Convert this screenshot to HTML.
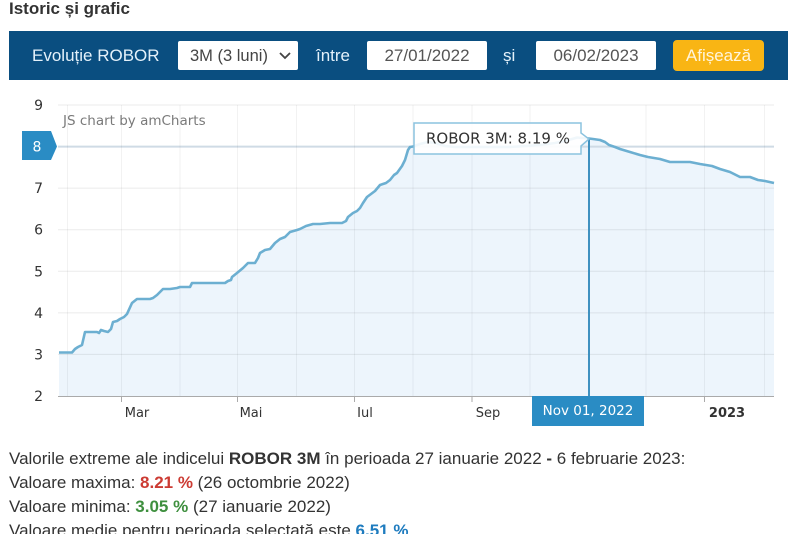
<!DOCTYPE html>
<html><head><meta charset="utf-8"><style>
html,body{margin:0;padding:0;background:#fff;width:800px;height:534px;overflow:hidden}
svg{display:block}
</style></head><body>
<svg width="800" height="534" viewBox="0 0 800 534" xmlns="http://www.w3.org/2000/svg">
<!-- Header -->
<text x="9" y="14" font-family="'Liberation Sans',Arial,sans-serif" font-size="17" font-weight="bold" fill="#333">Istoric și grafic</text>
<!-- Blue bar -->
<rect x="9" y="31" width="779" height="49" fill="#0a4e80"/>
<text x="32" y="61" font-family="'Liberation Sans',Arial,sans-serif" font-size="17" fill="#e4f1fa">Evoluție ROBOR</text>
<rect x="178" y="41" width="120" height="29" rx="2" fill="#fff"/>
<text x="190" y="61" font-family="'Liberation Sans',Arial,sans-serif" font-size="16.5" fill="#444">3M (3 luni)</text>
<polyline points="280,53 285,58 290,53" fill="none" stroke="#444" stroke-width="1.8"/>
<text x="316" y="61" font-family="'Liberation Sans',Arial,sans-serif" font-size="17" fill="#e4f1fa">între</text>
<rect x="367" y="41" width="120" height="29" rx="2" fill="#fff"/>
<text x="427" y="61" text-anchor="middle" font-family="'Liberation Sans',Arial,sans-serif" font-size="17" fill="#555">27/01/2022</text>
<text x="503" y="61" font-family="'Liberation Sans',Arial,sans-serif" font-size="17" fill="#e4f1fa">și</text>
<rect x="536" y="41" width="120" height="29" rx="2" fill="#fff"/>
<text x="596" y="61" text-anchor="middle" font-family="'Liberation Sans',Arial,sans-serif" font-size="17" fill="#555">06/02/2023</text>
<rect x="673" y="40" width="91" height="31" rx="4" fill="#f9b514"/>
<text x="718.5" y="61" text-anchor="middle" font-family="'Liberation Sans',Arial,sans-serif" font-size="17" fill="#fff5dc">Afișează</text>

<!-- Chart fill -->
<polygon fill="#edf5fc" points="59,396 59,352.5 72,352.5 75,349 78,347 82,345 85,332 97,332 99,333 101,330 104,331 108,332 111,329 113,322 117,321 120,319 124,317 127,314 132,303 137,299 145,299 150,299 153,298 157,295 160,292 163,289 170,289 177,288 180,287 190,287 192,283 210,283 225,283 228,281 231,280 232,277 237,273 243,268 248,263 255,263 258,258 260,253 265,250 270,249 275,243 280,239 285,237 290,232 297,230 300,229 306,226 313,224 320,224 330,223 342,223 346,221 348,217 353,213 357,211 360,208 363,203 367,197 371,194 375,191 380,185 386,183 390,180 394,175 397,173 402,166 405,160 408,150 410,147 413,146.5 420,144 428,142 435,143 445,146 455,147 470,147 490,147 510,147 525,146 540,145 555,143 565,141 572,139 577,137.5 583,138 589,138.5 593,139 600,140 605,142 609,145 615,147 620,149 630,152 640,155 648,157 660,159 670,162 690,162 700,164 712,166 720,169 730,172 740,177 750,177 758,180 765,181 774,183 774,396"/>

<!-- Grid -->
<g stroke="#000" stroke-opacity="0.08" stroke-width="1">
<line x1="58" y1="105" x2="774" y2="105"/>
<line x1="58" y1="188.1" x2="774" y2="188.1"/>
<line x1="58" y1="229.7" x2="774" y2="229.7"/>
<line x1="58" y1="271.3" x2="774" y2="271.3"/>
<line x1="58" y1="312.9" x2="774" y2="312.9"/>
<line x1="58" y1="354.4" x2="774" y2="354.4"/>
</g>
<line x1="58" y1="146.6" x2="774" y2="146.6" stroke="#cfdbe5" stroke-width="2"/>
<g stroke="#000" stroke-opacity="0.05" stroke-width="1">
<line x1="67.5" y1="105" x2="67.5" y2="396"/>
<line x1="121.5" y1="105" x2="121.5" y2="396"/>
<line x1="180" y1="105" x2="180" y2="396"/>
<line x1="237.5" y1="105" x2="237.5" y2="396"/>
<line x1="296.5" y1="105" x2="296.5" y2="396"/>
<line x1="354.5" y1="105" x2="354.5" y2="396"/>
<line x1="413" y1="105" x2="413" y2="396"/>
<line x1="472" y1="105" x2="472" y2="396"/>
<line x1="530" y1="105" x2="530" y2="396"/>
<line x1="646" y1="105" x2="646" y2="396"/>
<line x1="704.5" y1="105" x2="704.5" y2="396"/>
<line x1="764.5" y1="105" x2="764.5" y2="396"/>
</g>
<!-- axis -->
<line x1="58" y1="396.5" x2="774" y2="396.5" stroke="#aaa" stroke-width="1"/>
<g stroke="#aaa" stroke-width="1">
<line x1="121.5" y1="396" x2="121.5" y2="402"/>
<line x1="237.5" y1="396" x2="237.5" y2="402"/>
<line x1="354.5" y1="396" x2="354.5" y2="402"/>
<line x1="472" y1="396" x2="472" y2="402"/>
<line x1="704.5" y1="396" x2="704.5" y2="402"/>
</g>

<!-- Series line -->
<polyline fill="none" stroke="#6cafd1" stroke-width="2.6" stroke-linejoin="round" points="59,352.5 72,352.5 75,349 78,347 82,345 85,332 97,332 99,333 101,330 104,331 108,332 111,329 113,322 117,321 120,319 124,317 127,314 132,303 137,299 145,299 150,299 153,298 157,295 160,292 163,289 170,289 177,288 180,287 190,287 192,283 210,283 225,283 228,281 231,280 232,277 237,273 243,268 248,263 255,263 258,258 260,253 265,250 270,249 275,243 280,239 285,237 290,232 297,230 300,229 306,226 313,224 320,224 330,223 342,223 346,221 348,217 353,213 357,211 360,208 363,203 367,197 371,194 375,191 380,185 386,183 390,180 394,175 397,173 402,166 405,160 408,150 410,147 413,146.5 420,144 428,142 435,143 445,146 455,147 470,147 490,147 510,147 525,146 540,145 555,143 565,141 572,139 577,137.5 583,138 589,138.5 593,139 600,140 605,142 609,145 615,147 620,149 630,152 640,155 648,157 660,159 670,162 690,162 700,164 712,166 720,169 730,172 740,177 750,177 758,180 765,181 774,183"/>

<!-- cursor -->
<line x1="589" y1="139" x2="589" y2="396" stroke="#3f91c0" stroke-width="2"/>

<!-- Y labels -->
<g font-family="'DejaVu Sans',Verdana,sans-serif" font-size="14" fill="#333" text-anchor="end">
<text x="43" y="110">9</text>
<text x="43" y="193.1">7</text>
<text x="43" y="234.7">6</text>
<text x="43" y="276.3">5</text>
<text x="43" y="317.9">4</text>
<text x="43" y="359.4">3</text>
<text x="43" y="401">2</text>
</g>
<path d="M22,131 H51 L57,146.5 L51,160 H22 Z" fill="#2a8cc4"/>
<text x="37" y="151.5" text-anchor="middle" font-family="'DejaVu Sans',Verdana,sans-serif" font-size="14" fill="#fff">8</text>

<text x="63" y="125" font-family="'DejaVu Sans',Verdana,sans-serif" font-size="13.5" fill="#7a7a7a">JS chart by amCharts</text>

<!-- X labels -->
<g font-family="'DejaVu Sans',Verdana,sans-serif" font-size="13" fill="#333" text-anchor="middle">
<text x="137" y="417">Mar</text>
<text x="251" y="417">Mai</text>
<text x="365" y="417">Iul</text>
<text x="488" y="417">Sep</text>
<text x="727" y="417" font-weight="bold">2023</text>
</g>
<rect x="532" y="396" width="112" height="30" fill="#2a8cc4"/>
<text x="588" y="415" text-anchor="middle" font-family="'DejaVu Sans',Verdana,sans-serif" font-size="13.5" fill="#fff">Nov 01, 2022</text>

<!-- tooltip -->
<path d="M414,123 H581 V133 L589,139 L581,146 V154 H414 Z" fill="#fff" fill-opacity="0.9" stroke="#8cc3df" stroke-width="1.5"/>
<text x="426" y="143.5" font-family="'DejaVu Sans',Verdana,sans-serif" font-size="15" fill="#333">ROBOR 3M: 8.19 %</text>

<!-- Bottom text -->
<g font-family="'Liberation Sans',Arial,sans-serif" font-size="17" fill="#333">
<text x="9" y="464">Valorile extreme ale indicelui <tspan font-weight="bold">ROBOR 3M</tspan> în perioada 27 ianuarie 2022 <tspan font-weight="bold">-</tspan> 6 februarie 2023:</text>
<text x="9" y="488">Valoare maxima: <tspan font-weight="bold" fill="#cc3b33">8.21 %</tspan> (26 octombrie 2022)</text>
<text x="9" y="512">Valoare minima: <tspan font-weight="bold" fill="#3e8f3e">3.05 %</tspan> (27 ianuarie 2022)</text>
<text x="9" y="536">Valoare medie pentru perioada selectată este <tspan font-weight="bold" fill="#1f7cbf">6.51 %</tspan></text>
</g>
</svg>
</body></html>
